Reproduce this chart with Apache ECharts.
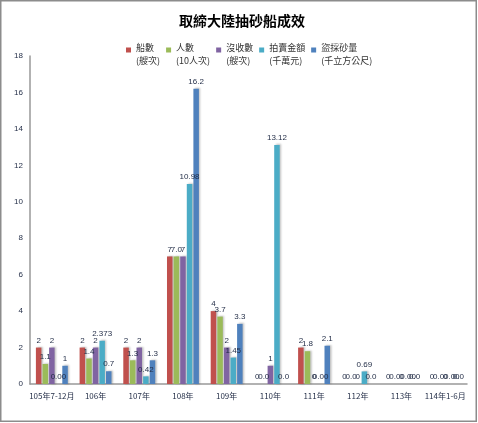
<!DOCTYPE html>
<html>
<head>
    <meta charset="utf-8">
    <title>取締大陸抽砂船成效</title>
    <script src="https://cdn.jsdelivr.net/npm/echarts@6/dist/echarts.min.js"></script>
    <style>
        body { margin: 0; background: #fff; }
    </style>
</head>
<body>
<div id="main" style="width: 478px;height:423px;"></div>
<script type="text/javascript">
    // categories and values
    var years = ['105年7-12月', '106年', '107年', '108年', '109年', '110年', '111年', '112年', '113年', '114年1-6月'];
    var ships = [2, 2, 2, 7, 4, 0, 2, 0, 0, 0];
    var people = [1.1, 1.4, 1.3, 7, 3.7, 0, 1.8, 0, 0, 0];
    var seized = [2, 2, 2, 7, 2, 1, 0, 0, 0, 0];
    var auction = [0, 2.373, 0.42, 10.98, 1.45, 13.12, 0, 0.69, 0, 0];
    var sand = [1, 0.7, 1.3, 16.2, 3.3, 0, 2.1, 0, 0, 0];

    var names = ['船數', '人數', '沒收數', '拍賣金額', '盜採砂量'];
    var units = ['(艘次)', '(10人次)', '(艘次)', '(千萬元)', '(千立方公尺)'];
    var colors = ['#C0504D', '#9BBB59', '#8064A2', '#4BACC6', '#4F81BD'];
    var zeroText = ['0', '0.0', '0', '0.00', '0.0'];

    var myChart = echarts.init(document.getElementById('main'));

    function makeSeries(idx, data) {
        return {
            name: names[idx],
            type: 'bar',
            data: data,
            barWidth: 5.5,
            barGap: '20%',
            itemStyle: {
                color: colors[idx],
                shadowColor: 'rgba(0,0,0,0.25)',
                shadowBlur: 2,
                shadowOffsetX: 1.5,
                shadowOffsetY: -0.5
            },
            label: {
                show: true,
                position: 'top',
                distance: 3,
                fontSize: 8,
                fontFamily: 'Liberation Sans',
                color: '#1f2a44',
                formatter: function (p) {
                    if (p.value === 0) return zeroText[idx];
                    // people counted in tens, shown with one decimal
                    return idx === 1 ? p.value.toFixed(1) : String(p.value);
                }
            }
        };
    }

    var option = {
        animation: false,
        title: {
            text: '取締大陸抽砂船成效',
            left: 237,
            textAlign: 'center',
            top: 9,
            textStyle: {
                fontSize: 14,
                fontWeight: 'bold',
                color: '#000',
                fontFamily: 'Noto Sans CJK TC'
            }
        },
        legend: {
            data: names,
            left: 121,
            top: 36,
            itemWidth: 5,
            itemHeight: 13,
            itemGap: 6,
            // square sits at the top of the two-line item
            icon: 'path://M0,0L5,0L5,5L0,5Z M0,13L0.01,13L0.01,13.01L0,13.01Z',
            formatter: function (name) {
                return name + '\n' + units[names.indexOf(name)];
            },
            textStyle: {
                fontSize: 9,
                color: '#333',
                lineHeight: 13,
                fontFamily: 'Noto Sans CJK TC'
            }
        },
        grid: {
            left: 30,
            right: 11,
            top: 56,
            bottom: 39,
            containLabel: false
        },
        xAxis: {
            type: 'category',
            data: years,
            axisLine: { lineStyle: { color: '#999', width: 1.5 } },
            axisTick: { show: false },
            axisLabel: {
                fontSize: 8,
                color: '#1f2a44',
                margin: 8,
                interval: 0,
                fontFamily: 'Noto Sans CJK TC'
            }
        },
        yAxis: {
            type: 'value',
            min: 0,
            max: 18,
            interval: 2,
            axisLine: { show: true, lineStyle: { color: '#999', width: 1.5 } },
            axisTick: { show: false },
            splitLine: { show: false },
            axisLabel: {
                fontSize: 8,
                color: '#1f2a44',
                margin: 7,
                fontFamily: 'Liberation Sans'
            }
        },
        graphic: [{
            type: 'rect',
            shape: { x: 0.75, y: 0.75, width: 475.5, height: 420.5 },
            style: { fill: 'none', stroke: '#8c8c8c', lineWidth: 1.5 },
            silent: true
        }],
        series: [
            makeSeries(0, ships),
            makeSeries(1, people),
            makeSeries(2, seized),
            makeSeries(3, auction),
            makeSeries(4, sand)
        ]
    };

    myChart.setOption(option);
</script>
</body>
</html>
